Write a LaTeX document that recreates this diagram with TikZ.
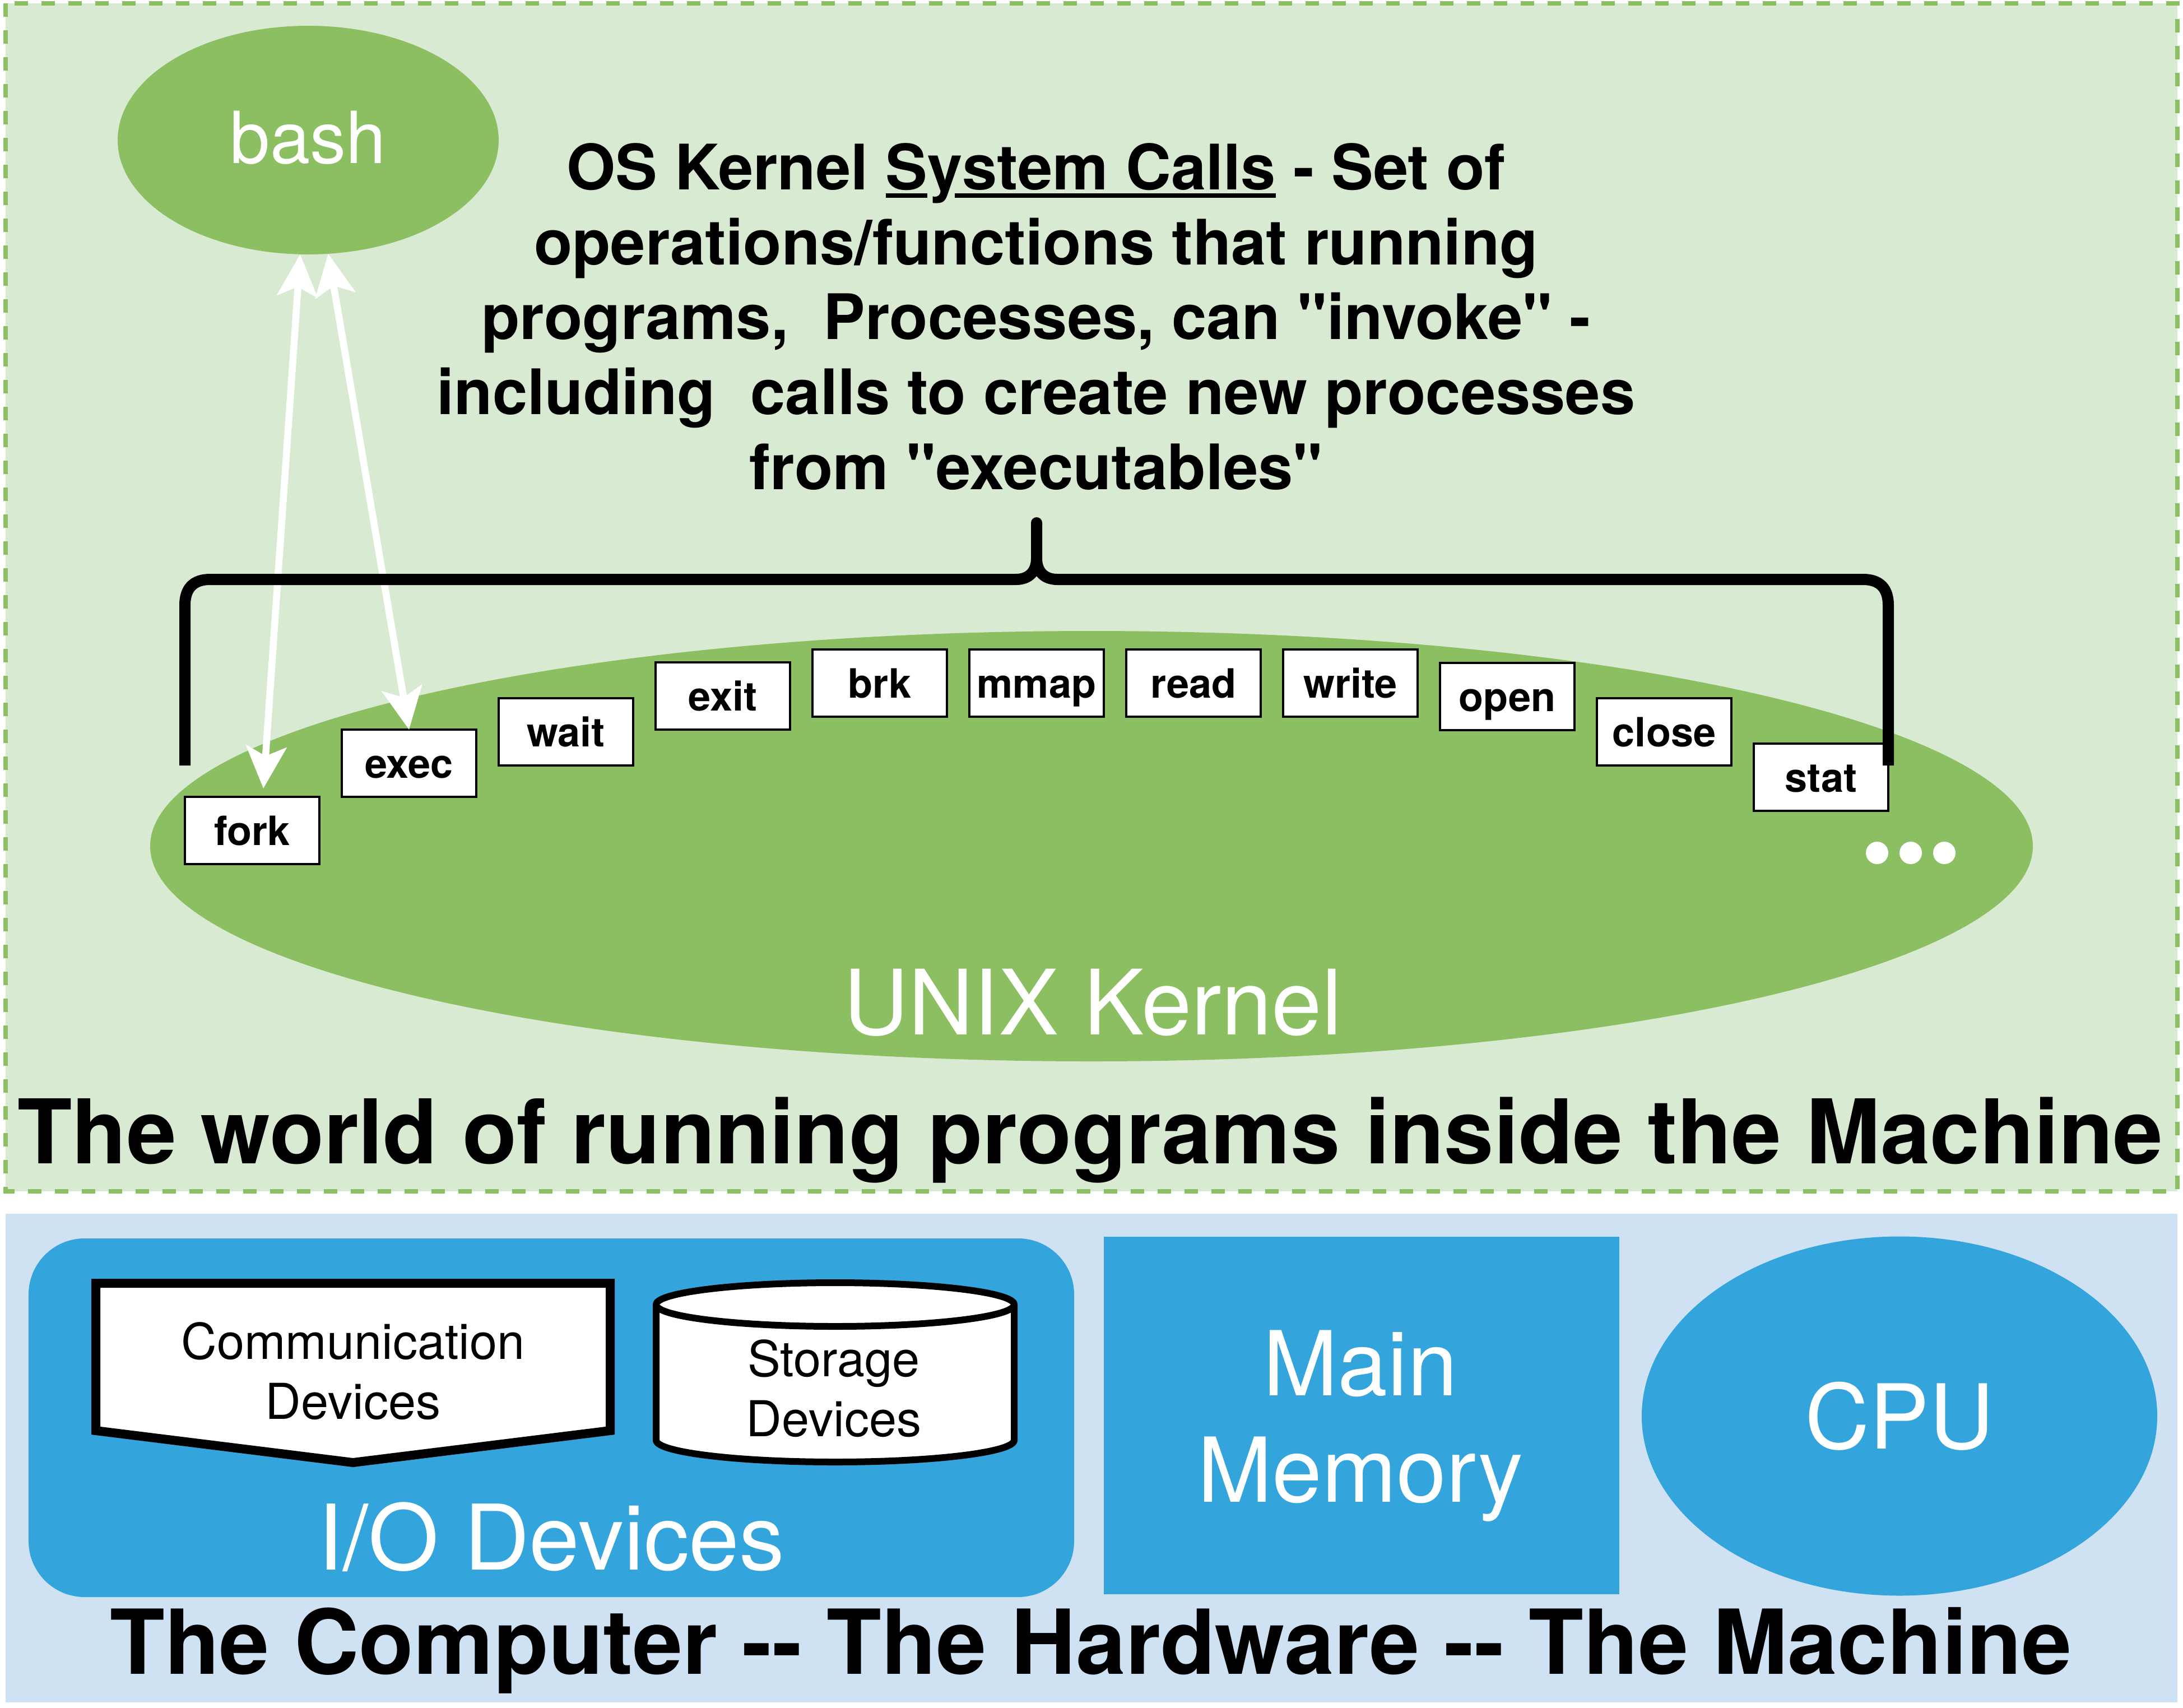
\documentclass[tikz,border=0pt]{standalone}
\usepackage{fontspec}
\setmainfont[Ligatures=TeXOff]{TeX Gyre Heros}
\usetikzlibrary{arrows.meta,shapes.geometric,positioning}
\definecolor{panelgreen}{HTML}{D9EAD3}
\definecolor{shapegreen}{HTML}{8CBF62}
\definecolor{panelblue}{HTML}{CFE2F3}
\definecolor{shapeblue}{HTML}{33A4DC}
\newsavebox{\ulinebox}
\newcommand{\thickuline}[1]{\sbox{\ulinebox}{#1}\rlap{\rule[-0.15cm]{\wd\ulinebox}{0.08cm}}\usebox{\ulinebox}}
\tikzset{
	callbox/.style = {shape=rectangle, draw=black, fill=white, line width=0.045cm, minimum width=2.4cm, minimum height=1.2cm, text height=0.6cm, text depth=0.08cm, inner sep=0pt, outer sep=0pt, font=\bfseries\fontsize{20.5}{24}\selectfont},
	blob/.style = {shape=ellipse, inner sep=0pt, outer sep=0pt, text=white},
	invoke/.style = {{Stealth[length=0.75cm,width=0.72cm,inset=0.17cm]}-{Stealth[length=0.75cm,width=0.72cm,inset=0.17cm]}, draw=white, line width=0.125cm},
	dot/.style = {shape=circle, fill=white, minimum size=0.4cm, inner sep=0pt}
}
\begin{document}
\begin{tikzpicture}[x=1cm,y=-1cm]
	\useasboundingbox (0,0) rectangle (38.96,30.48);

	% the running programs
	\fill[panelgreen] (0.1,0.06) rectangle (38.86,21.26);
	\draw[shapegreen, line width=0.08cm, dash pattern=on 0.24cm off 0.24cm] (0.1,0.06) rectangle (38.86,21.26);

	\node[blob, fill=shapegreen, minimum width=6.8cm, minimum height=4.08cm, text depth=0.1cm, font=\fontsize{36.5}{42}\selectfont] (bash) at (5.5,2.5) {bash};
	\node[blob, fill=shapegreen, minimum width=33.6cm, minimum height=7.68cm] (kernel) at (19.48,15.1) {};
	\node[text=white, font=\fontsize{45.8}{54}\selectfont] (kernel_label) at (19.5,17.89) {UNIX Kernel};

	\node[callbox] (fork) at (4.5,14.82) {fork};
	\node[callbox] (exec) at (7.3,13.62) {exec};
	\node[callbox] (wait) at (10.1,13.06) {wait};
	\node[callbox] (exit) at (12.9,12.42) {exit};
	\node[callbox] (brk) at (15.7,12.19) {brk};
	\node[callbox] (mmap) at (18.5,12.19) {mmap};
	\node[callbox] (read) at (21.3,12.19) {read};
	\node[callbox] (write) at (24.1,12.19) {write};
	\node[callbox] (open) at (26.9,12.43) {open};
	\node[callbox] (close) at (29.7,13.06) {close};
	\node[callbox] (stat) at (32.5,13.87) {stat};

	\node[dot] (dot_1) at (33.5,15.22) {};
	\node[dot] (dot_2) at (34.1,15.22) {};
	\node[dot] (dot_3) at (34.7,15.22) {};

	\node[align=center, font=\bfseries\fontsize{31.85}{38.1}\selectfont] (syscalls) at (18.49,5.65) {OS Kernel \thickuline{S}y\hspace{-0.14cm}\thickuline{\hspace{0.14cm}stem Calls} - Set of\\operations/functions that running\\programs,~ Processes, can "invoke" -\\including~ calls to create new processes\\from "executables"};

	\draw[invoke] (bash.-94.2) -- ([xshift=0.2cm,yshift=0.15cm]fork.north);
	\draw[invoke] (bash.-80.3) -- (exec.north);

	% the brace over the calls
	\coordinate (brace_tip) at (18.5,9.33);
	\draw[line width=0.2cm, line join=round] (3.3,13.66) -- (3.3,10.8) .. controls (3.3,10.5) and (3.45,10.34) .. (3.75,10.34) -- (18.13,10.34) .. controls (18.38,10.34) and (18.5,10.18) .. (18.5,9.97) -- (brace_tip) -- (18.5,9.97) .. controls (18.5,10.18) and (18.62,10.34) .. (18.87,10.34) -- (33.25,10.34) .. controls (33.55,10.34) and (33.7,10.5) .. (33.7,10.8) -- (33.7,13.66);

	\node[font=\bfseries\fontsize{45.3}{54}\selectfont] (world_title) at (19.46,20.35) {The world of running programs inside the Machine};

	% the machine
	\fill[panelblue] (0.1,21.66) rectangle (38.86,30.38);
	\node[shape=rectangle, rounded corners=1cm, fill=shapeblue, minimum width=18.66cm, minimum height=6.4cm, inner sep=0pt] (io) at (9.84,25.3) {};
	\node[shape=rectangle, fill=shapeblue, minimum width=9.2cm, minimum height=6.38cm] (memory) at (24.3,25.26) {};
	\node[align=center, text=white, font=\fontsize{45.5}{54}\selectfont] (memory_label) at (24.28,25.45) {Main\\Memory};
	\node[blob, fill=shapeblue, minimum width=9.2cm, minimum height=6.41cm, font=\fontsize{45.5}{54}\selectfont] (cpu) at (33.9,25.27) {CPU};
	\node[text=white, font=\fontsize{46}{54}\selectfont] (io_label) at (9.84,27.43) {I/O Devices};

	\draw[fill=white, line width=0.16cm, line join=miter] (1.71,22.9) -- (10.89,22.9) -- (10.89,25.53) -- (6.3,26.1) -- (1.71,25.53) -- cycle;
	\node[align=center, font=\fontsize{25.1}{30.5}\selectfont] (comm) at (6.3,24.47) {Communication\\Devices};

	\draw[fill=white, line width=0.12cm] (11.71,23.28) arc[start angle=180, end angle=0, x radius=3.195cm, y radius=0.39cm] -- (18.1,25.7) arc[start angle=0, end angle=-180, x radius=3.195cm, y radius=0.39cm] -- cycle;
	\draw[line width=0.12cm] (11.71,23.28) arc[start angle=180, end angle=360, x radius=3.195cm, y radius=0.39cm];
	\node[align=center, font=\fontsize{25.1}{30.5}\selectfont] (storage) at (14.88,24.78) {Storage\\Devices};

	\node[font=\bfseries\fontsize{45.5}{54}\selectfont] (machine_title) at (19.47,29.45) {The Computer -- The Hardware -- The Machine};
\end{tikzpicture}
\end{document}
